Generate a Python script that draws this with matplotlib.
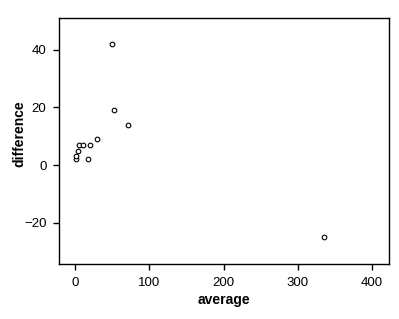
import matplotlib
matplotlib.use("Agg")
import matplotlib.pyplot as plt

# Data
average = [2, 2, 4, 6, 11, 20, 17, 30, 50, 52, 72, 335]
difference = [2, 3, 5, 7, 7, 7, 2, 9, 42, 19, 14, -25]

plt.rcParams['font.family'] = ['Liberation Sans', 'DejaVu Sans']

fig = plt.figure(figsize=(3.99, 3.19), dpi=100)
ax = fig.add_axes([59 / 399, 1 - 264 / 319, 330 / 399, 246 / 319])

ax.scatter(average, difference, s=11, facecolors='white', edgecolors='black', linewidths=0.8)

ax.set_xlim(-21.5, 422.6)
ax.set_ylim(-34.4, 51.1)
ax.set_xticks([0, 100, 200, 300, 400])
ax.set_yticks([-20, 0, 20, 40])
ax.tick_params(direction='out', length=4, width=1, labelsize=9.5, colors='black', pad=5)
for s in ax.spines.values():
    s.set_linewidth(1)

ax.set_xlabel('average', fontsize=10, fontweight='bold', va='center')
ax.set_ylabel('difference', fontsize=10, fontweight='bold', va='center')
ax.xaxis.set_label_coords(0.5, -0.145)
ax.yaxis.set_label_coords(-0.12, 0.53)

fig.savefig('out.png', dpi=100)
